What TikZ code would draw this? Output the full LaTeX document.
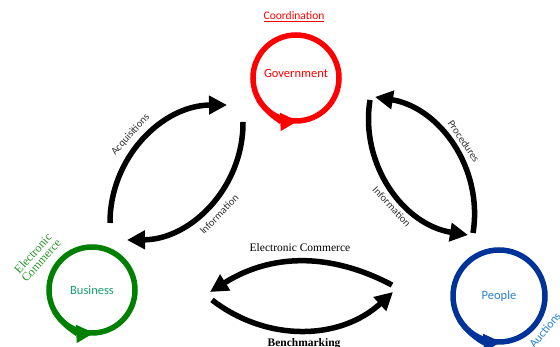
\documentclass[tikz,border=0pt]{standalone}
\usepackage{fontspec}
\setmainfont{Liberation Serif}
\setsansfont{Carlito}
\usetikzlibrary{arrows.meta}

\definecolor{govred}{RGB}{255,0,0}
\definecolor{busgreen}{RGB}{0,128,0}
\definecolor{bustext}{RGB}{20,160,110}
\definecolor{peoblue}{RGB}{0,51,153}
\definecolor{peotext}{RGB}{40,130,210}
\definecolor{flowtext}{RGB}{50,50,50}

\tikzset{
	ring/.style={shape=circle,line width=5.5pt,minimum size=86pt,outer sep=0pt,inner sep=0pt,font=\sffamily\fontsize{12.5}{14}\selectfont},
	ringtip/.style={line width=5.5pt,-{Triangle[length=18pt,width=17pt]}},
	flow/.style={line width=5.5pt,-{Triangle[length=18pt,width=18pt]}},
	flowlabel/.style={font=\sffamily\fontsize{10.5}{12}\selectfont,text=flowtext,inner sep=3pt},
	serflabel/.style={font=\fontsize{11.5}{13}\selectfont,inner sep=2pt}
}

\begin{document}
\begin{tikzpicture}[x=1pt,y=1pt]
	\useasboundingbox (0,0) rectangle (560,347);

	\node[ring,draw=govred,text=govred,text depth=10pt] (gov) at (296,269) {Government};
	\node[ring,draw=busgreen,text=bustext] (bus) at (92,57) {Business};
	\node[ring,draw=peoblue,text=peotext,minimum size=92pt] (peo) at (499,51) {People};

	\draw[ringtip,govred] (gov.210) arc[start angle=210,end angle=273,radius=43pt];
	\draw[ringtip,busgreen] (bus.210) arc[start angle=210,end angle=273,radius=43pt];
	\draw[ringtip,peoblue] (peo.210) arc[start angle=210,end angle=273,radius=46pt];

	\node[text=govred,font=\sffamily\fontsize{11.5}{13}\selectfont] (coord) at (294,330) {\underline{Coordination}};
	\node[text=busgreen!85!white,font=\fontsize{12}{11}\selectfont,align=center,rotate=48] (ecom) at (37,90) {Electronic\\Commerce};
	\node[text=peotext,font=\sffamily\fontsize{12}{13}\selectfont,rotate=50] (auct) at (545,17) {Auctions};

	\coordinate (a1) at (110,124);
	\coordinate (a2) at (227,242);
	\coordinate (i1) at (243,225);
	\coordinate (i2) at (127,107);
	\coordinate (p1) at (473,114);
	\coordinate (p2) at (375,250);
	\coordinate (j1) at (370,247);
	\coordinate (j2) at (468,112);
	\coordinate (e1) at (392,62);
	\coordinate (e2) at (210,55);
	\coordinate (k1) at (212,47);
	\coordinate (k2) at (393,55);

	\path[flow] (a1) edge[bend left=45] node[flowlabel,sloped,above=3pt,pos=0.47]{Acquisitions} (a2);
	\path[flow] (i1) edge[bend left=45] node[flowlabel,sloped,below=4pt,pos=0.5]{Information} (i2);
	\path[flow] (p1) edge[bend right=45] node[flowlabel,sloped,above=2pt,pos=0.48]{Procedures} (p2);
	\path[flow] (j1) edge[bend right=45] node[flowlabel,sloped,below=2pt,pos=0.58]{Information} (j2);
	\path[flow] (e1) edge[bend right=30] node[serflabel,above=5pt]{Electronic Commerce} (e2);
	\path[flow] (k1) edge[bend right=40] node[serflabel,below=4pt,font=\bfseries\fontsize{11.5}{13}\selectfont]{Benchmarking} (k2);
\end{tikzpicture}
\end{document}
